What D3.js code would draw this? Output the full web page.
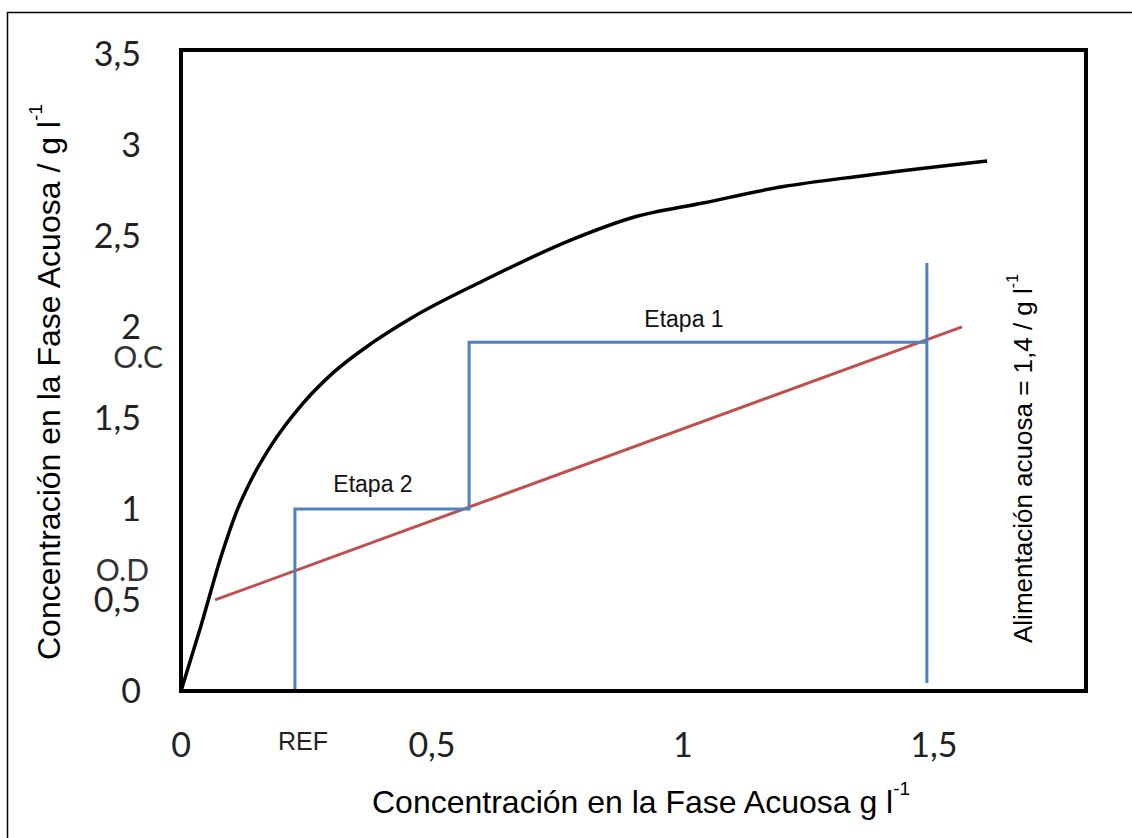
<!DOCTYPE html>
<html>
<head>
<meta charset="utf-8">
<script src="https://cdn.jsdelivr.net/npm/d3@7"></script>
<style>
  body { margin: 0; background: #fff; }
  svg { display: block; }
</style>
</head>
<body>
<div id="chart"></div>
<script>
// equilibrium curve (black)
const eqX = [0, 0.04, 0.08, 0.11, 0.14, 0.18, 0.24, 0.30, 0.38, 0.46, 0.6, 0.78, 0.9, 1.04, 1.2, 1.36, 1.606];
const eqY = [0, 0.36, 0.74, 0.98, 1.16, 1.35, 1.57, 1.74, 1.91, 2.05, 2.25, 2.48, 2.6, 2.68, 2.77, 2.83, 2.91];

// operating line (red)
const opX = [0.068, 1.556];
const opY = [0.5, 2.0];

// stage steps (blue)
const stepX = [0.227, 0.227, 0.574, 0.574, 1.486];
const stepY = [0, 1.0, 1.0, 1.915, 1.915];

// feed line (blue vertical)
const feedX = [1.486, 1.486];
const feedY = [0.044, 2.35];

const xTicks = [0, 0.5, 1, 1.5];
const xTickLabels = ["0", "0,5", "1", "1,5"];
const yTicks = [0, 0.5, 1, 1.5, 2, 2.5, 3, 3.5];
const yTickLabels = ["0", "0,5", "1", "1,5", "2", "2,5", "3", "3,5"];

const W = 1132, H = 838;
const svg = d3.select("#chart").append("svg")
    .attr("width", W)
    .attr("height", H);

// outer frame
svg.append("rect")
    .attr("x", 7.5).attr("y", 12.5)
    .attr("width", 1130).attr("height", 840)
    .attr("fill", "none")
    .attr("stroke", "#000")
    .attr("stroke-width", 1.5);

const x = d3.scaleLinear().domain([0, 1.803]).range([181, 1086]);
const y = d3.scaleLinear().domain([0, 3.52]).range([691, 50]);

const line = d3.line().x(d => x(d[0])).y(d => y(d[1]));

// equilibrium curve
svg.append("path")
    .datum(eqX.map((v, i) => [v, eqY[i]]))
    .attr("d", line.curve(d3.curveMonotoneX))
    .attr("fill", "none")
    .attr("stroke", "#000")
    .attr("stroke-width", 3.5);

line.curve(d3.curveLinear);

// operating line
svg.append("path")
    .datum(opX.map((v, i) => [v, opY[i]]))
    .attr("d", line)
    .attr("fill", "none")
    .attr("stroke", "#c0504d")
    .attr("stroke-width", 3);

// steps
svg.append("path")
    .datum(stepX.map((v, i) => [v, stepY[i]]))
    .attr("d", line)
    .attr("fill", "none")
    .attr("stroke", "#4f81bd")
    .attr("stroke-width", 3);

svg.append("path")
    .datum(feedX.map((v, i) => [v, feedY[i]]))
    .attr("d", line)
    .attr("fill", "none")
    .attr("stroke", "#4f81bd")
    .attr("stroke-width", 3);

// plot box
svg.append("rect")
    .attr("x", x(0)).attr("y", y(3.52))
    .attr("width", x(1.803) - x(0))
    .attr("height", y(0) - y(3.52))
    .attr("fill", "none")
    .attr("stroke", "#000")
    .attr("stroke-width", 4);

// tick labels
svg.selectAll(".xt")
    .data(xTicks)
    .enter().append("text")
    .attr("x", d => x(d))
    .attr("y", 757)
    .attr("text-anchor", "middle")
    .style("font-family", "Lato, sans-serif")
    .style("font-size", "34px")
    .attr("fill", "#222")
    .text((d, i) => xTickLabels[i]);

svg.selectAll(".yt")
    .data(yTicks)
    .enter().append("text")
    .attr("x", 141)
    .attr("y", d => y(d))
    .attr("dy", "0.36em")
    .attr("text-anchor", "end")
    .style("font-family", "Lato, sans-serif")
    .style("font-size", "34px")
    .attr("fill", "#222")
    .text((d, i) => yTickLabels[i]);

// extra annotations
svg.append("text")
    .attr("x", 303).attr("y", 750)
    .attr("text-anchor", "middle")
    .style("font-family", "Liberation Sans, Arial, sans-serif")
    .style("font-size", "25px")
    .attr("fill", "#222")
    .text("REF");

svg.append("text")
    .attr("x", 163).attr("y", 368)
    .attr("text-anchor", "end")
    .style("font-family", "Lato, sans-serif")
    .style("font-size", "30px")
    .attr("fill", "#333")
    .text("O.C");

svg.append("text")
    .attr("x", 149).attr("y", 581)
    .attr("text-anchor", "end")
    .style("font-family", "Lato, sans-serif")
    .style("font-size", "30px")
    .attr("fill", "#333")
    .text("O.D");

svg.append("text")
    .attr("x", 684).attr("y", 327)
    .attr("text-anchor", "middle")
    .style("font-family", "Liberation Sans, Arial, sans-serif")
    .style("font-size", "23px")
    .attr("fill", "#111")
    .text("Etapa 1");

svg.append("text")
    .attr("x", 373).attr("y", 492)
    .attr("text-anchor", "middle")
    .style("font-family", "Liberation Sans, Arial, sans-serif")
    .style("font-size", "23px")
    .attr("fill", "#111")
    .text("Etapa 2");

// axis titles
const xt = svg.append("text")
    .attr("x", 372).attr("y", 813)
    .style("font-family", "Liberation Sans, Arial, sans-serif")
    .style("font-size", "32px")
    .attr("fill", "#000");
xt.append("tspan").text("Concentración en la Fase Acuosa g l");
xt.append("tspan").attr("dy", -18).style("font-size", "19px").text("-1");

const yt = svg.append("text")
    .attr("transform", "translate(60,660) rotate(-90)")
    .style("font-family", "Liberation Sans, Arial, sans-serif")
    .style("font-size", "32px")
    .attr("fill", "#000");
yt.append("tspan").text("Concentración en la Fase Acuosa / g l");
yt.append("tspan").attr("dy", -18).style("font-size", "19px").text("-1");

const rt = svg.append("text")
    .attr("transform", "translate(1032,643) rotate(-90)")
    .style("font-family", "Liberation Sans, Arial, sans-serif")
    .style("font-size", "26px")
    .attr("fill", "#000");
rt.append("tspan").text("Alimentación acuosa = 1,4 / g l");
rt.append("tspan").attr("dy", -14).style("font-size", "16px").text("-1");
</script>
</body>
</html>
